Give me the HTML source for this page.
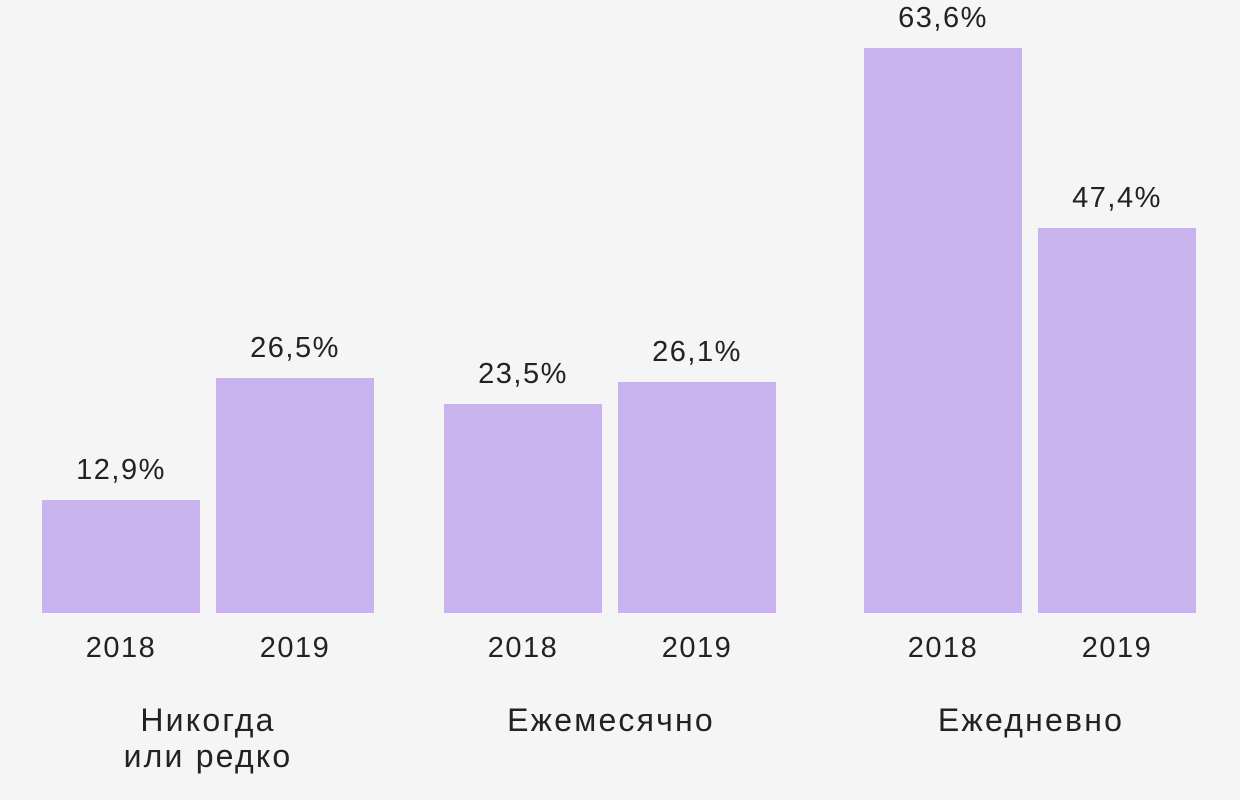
<!DOCTYPE html>
<html><head><meta charset="utf-8"><style>
body{margin:0;width:1240px;height:800px;background:#f5f5f5;position:relative;overflow:hidden;font-family:"Liberation Sans","DejaVu Sans",sans-serif;color:#222}
.b{position:absolute;background:#c9b3ee;width:158px}
.t{position:absolute;width:240px;text-align:center;font-size:29px;line-height:1;letter-spacing:1.5px}
.c{position:absolute;width:300px;text-align:center;font-size:32px;line-height:36px;letter-spacing:2.2px}
</style></head><body>
<div class="b" style="left:42px;top:500px;height:113px"></div>
<div class="b" style="left:216px;top:378px;height:235px"></div>
<div class="b" style="left:444px;top:404px;height:209px"></div>
<div class="b" style="left:618px;top:382px;height:231px"></div>
<div class="b" style="left:864px;top:48px;height:565px"></div>
<div class="b" style="left:1038px;top:228px;height:385px"></div>

<div class="t" style="left:1px;top:456px">12,9%</div>
<div class="t" style="left:175px;top:334px">26,5%</div>
<div class="t" style="left:403px;top:360px">23,5%</div>
<div class="t" style="left:577px;top:338px">26,1%</div>
<div class="t" style="left:823px;top:4px">63,6%</div>
<div class="t" style="left:997px;top:184px">47,4%</div>

<div class="t" style="left:1px;top:634px">2018</div>
<div class="t" style="left:175px;top:634px">2019</div>
<div class="t" style="left:403px;top:634px">2018</div>
<div class="t" style="left:577px;top:634px">2019</div>
<div class="t" style="left:823px;top:634px">2018</div>
<div class="t" style="left:997px;top:634px">2019</div>

<div class="c" style="left:58px;top:702px">Никогда<br>или редко</div>
<div class="c" style="left:461px;top:702px">Ежемесячно</div>
<div class="c" style="left:881px;top:702px">Ежедневно</div>
</body></html>
